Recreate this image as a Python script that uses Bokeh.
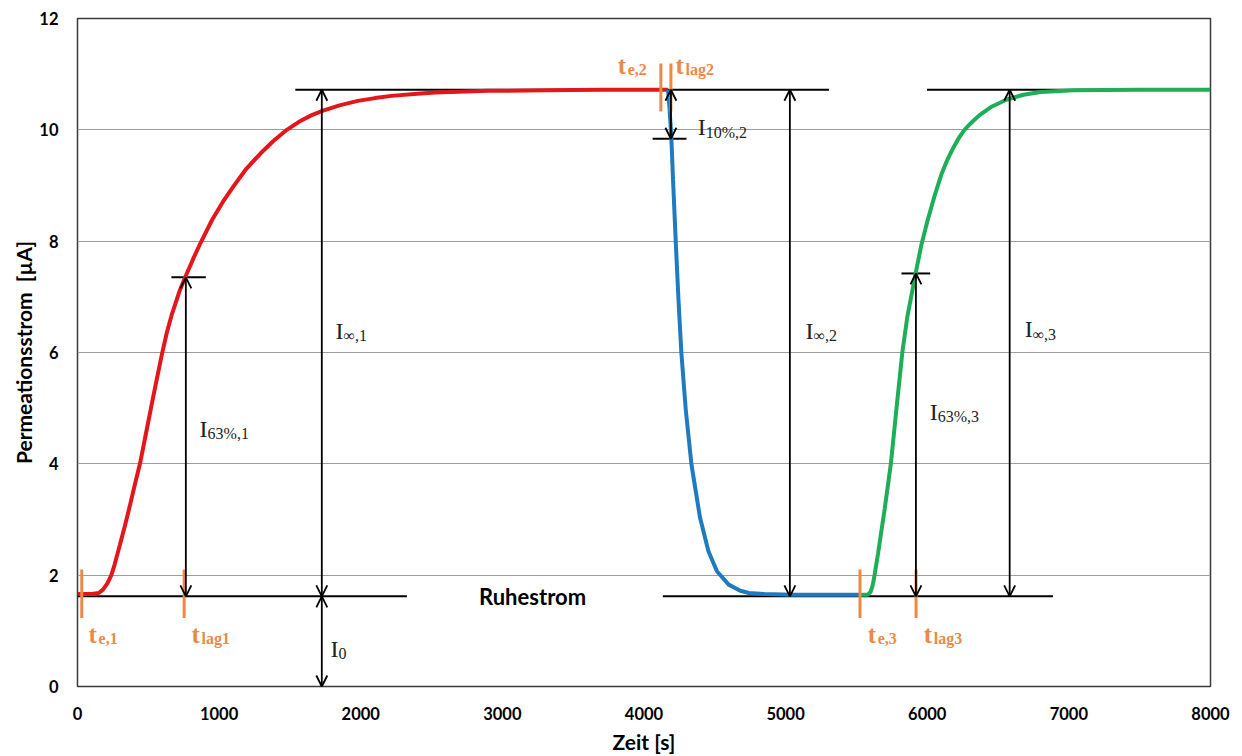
from bokeh.plotting import figure
from bokeh.models import Range1d, FixedTicker, Arrow, OpenHead, ColumnDataSource
from bokeh.core.properties import value
from bokeh.embed import file_html
from bokeh.resources import INLINE

# ---------------- data ----------------
red_t = [0, 100, 150, 180, 210, 239, 262, 300, 334, 370, 405, 441, 480, 525, 560, 597,
         630, 668, 720, 765, 820, 871, 950, 1025, 1100, 1192, 1290, 1383, 1478, 1574,
         1650, 1729, 1850, 1979, 2100, 2217, 2400, 2527, 2900, 3300, 3700, 4169]
red_i = [1.66, 1.66, 1.68, 1.74, 1.85, 2.0, 2.19, 2.55, 2.88, 3.25, 3.63, 4.0, 4.5, 5.08,
         5.52, 5.98, 6.35, 6.7, 7.1, 7.38, 7.7, 7.98, 8.38, 8.7, 8.98, 9.3, 9.57, 9.8,
         10.0, 10.16, 10.26, 10.34, 10.44, 10.52, 10.57, 10.61, 10.65, 10.67, 10.7, 10.71,
         10.72, 10.72]

blue_t = [4169, 4180, 4193, 4205, 4224, 4243, 4264, 4295, 4335, 4395, 4455, 4515, 4598,
          4680, 4741, 4850, 5052, 5300, 5530]
blue_i = [10.72, 10.4, 9.87, 9.1, 8.0, 6.97, 5.99, 4.97, 3.99, 3.04, 2.43, 2.07, 1.83,
          1.72, 1.68, 1.66, 1.65, 1.65, 1.65]

green_t = [5530, 5581, 5600, 5615, 5628, 5652, 5700, 5743, 5785, 5824, 5860, 5890, 5920,
           5960, 6000, 6050, 6100, 6140, 6180, 6220, 6260, 6300, 6367, 6450, 6558, 6680,
           6800, 7035, 7500, 8000]
green_i = [1.65, 1.65, 1.7, 1.82, 2.0, 2.38, 3.2, 4.0, 5.05, 6.0, 6.65, 7.05, 7.45,
           7.95, 8.35, 8.8, 9.2, 9.45, 9.66, 9.84, 9.99, 10.1, 10.26, 10.41, 10.54, 10.63,
           10.68, 10.71, 10.72, 10.72]

# characteristic levels [µA]
I_0 = 1.62
I_inf = 10.72
I_63_1 = 7.35
I_10_2 = 9.84
I_63_3 = 7.42

# characteristic times [s]
t_e = [30, 4119, 5525]
t_lag = [753, 4190, 5921]
t_inf = [1725, 5030, 6582]
t_arrow63 = [765, 5920]

# reference lines (start, end, level)
hline_x0 = [0, 4133, 1538, 5998, 663, 4061, 5818]
hline_x1 = [2326, 6888, 5306, 8000, 906, 4300, 6021]
hline_y = [I_0, I_0, I_inf, I_inf, I_63_1, I_10_2, I_63_3]

# double arrows (x, from, to)
arr_x = [t_arrow63[0], t_inf[0], t_inf[0], t_lag[1], t_inf[1], t_arrow63[1], t_inf[2]]
arr_y0 = [I_0, I_0, 0.0, I_inf, I_0, I_0, I_0]
arr_y1 = [I_63_1, I_inf, I_0, I_10_2, I_inf, I_63_3, I_inf]

# orange time markers (x, lower, upper)
mark_x = [t_e[0], t_lag[0], t_e[1], t_lag[1], t_e[2], t_lag[2]]
mark_y0 = [1.23, 1.23, 10.33, 10.33, 1.23, 1.23]
mark_y1 = [2.10, 2.10, 11.19, 11.19, 2.10, 2.10]

x_ticks = [0, 1000, 2000, 3000, 4000, 5000, 6000, 7000, 8000]
y_ticks = [0, 2, 4, 6, 8, 10, 12]

# annotation labels: main text, subscript, anchor
t_main = ["t", "t", "t", "t", "t", "t"]
t_sub = ["e,1", "lag1", "e,2", "lag2", "e,3", "lag3"]
t_lx = [78, 805, 3814, 4223, 5579, 5975]
t_ly = [0.93, 0.93, 11.16, 11.16, 0.93, 0.93]

i_main = ["I", "I", "I", "I", "I", "I", "I"]
i_sub = ["0", "63%,1", "\u221e,1", "10%,2", "\u221e,2", "63%,3", "\u221e,3"]
i_lx = [1787, 862, 1822, 4379, 5141, 6017, 6688]
i_ly = [0.68, 4.63, 6.39, 10.05, 6.39, 4.94, 6.42]

# ---------------- figure ----------------
p = figure(width=1242, height=756, x_range=Range1d(0, 8000), y_range=Range1d(0, 12),
           output_backend="svg", toolbar_location=None,
           min_border_left=77, min_border_right=32, min_border_top=18, min_border_bottom=60)
p.background_fill_color = "white"
p.border_fill_color = "white"
p.outline_line_color = "#3a3a3a"
p.outline_line_width = 1.5

p.xgrid.visible = False
p.ygrid.grid_line_color = "#9c9c9c"
p.ygrid.grid_line_width = 1
p.xaxis.ticker = FixedTicker(ticks=x_ticks)
p.yaxis.ticker = FixedTicker(ticks=y_ticks)
for ax in (p.xaxis, p.yaxis):
    ax.axis_line_color = None
    ax.major_tick_line_color = None
    ax.minor_tick_line_color = None
    ax.major_label_text_font = "Lato"
    ax.major_label_text_font_style = "bold"
    ax.major_label_text_font_size = "16.5px"
    ax.major_label_text_color = "black"
    ax.axis_label_text_font = "Lato"
    ax.axis_label_text_font_style = "bold"
    ax.axis_label_text_font_size = "21px"
    ax.axis_label_text_color = "black"
p.xaxis.axis_label = "Zeit [s]"
p.yaxis.axis_label = "Permeationsstrom\u00a0 [\u00b5A]"
p.xaxis.major_label_standoff = 14
p.yaxis.major_label_standoff = 13
p.xaxis.axis_label_standoff = 6
p.yaxis.axis_label_standoff = 0

# black reference lines
p.segment(x0=hline_x0, y0=hline_y, x1=hline_x1, y1=hline_y, line_color="black", line_width=2)

# curves
p.line(red_t, red_i, line_color="#e3161c", line_width=4)
p.line(blue_t, blue_i, line_color="#1f7bc1", line_width=4)
p.line(green_t, green_i, line_color="#1fae58", line_width=4)

# orange markers
p.segment(x0=mark_x, y0=mark_y0, x1=mark_x, y1=mark_y1, line_color="#ec8a45", line_width=3)

# double arrows
arr_src = ColumnDataSource(dict(x=arr_x, y0=arr_y0, y1=arr_y1))
p.add_layout(Arrow(source=arr_src, x_start="x", y_start="y0", x_end="x", y_end="y1",
                   line_color="black", line_width=1.8,
                   start=OpenHead(size=11, line_width=1.8, line_color="black"),
                   end=OpenHead(size=11, line_width=1.8, line_color="black")))

# orange t-labels
p.text(x=t_lx, y=t_ly, text=t_main, text_font=value("Liberation Serif"),
       text_font_style="bold", text_font_size="25px", text_color="#ec8a45",
       text_align="left", text_baseline="alphabetic")
p.text(x=t_lx, y=t_ly, text=t_sub, text_font=value("Liberation Serif"),
       text_font_style="bold", text_font_size="16px", text_color="#ec8a45",
       text_align="left", text_baseline="alphabetic", x_offset=10, y_offset=4)

# black I-labels
p.text(x=i_lx, y=i_ly, text=i_main, text_font=value("Liberation Serif"),
       text_font_size="24px", text_color="#222222",
       text_align="left", text_baseline="alphabetic")
p.text(x=i_lx, y=i_ly, text=i_sub, text_font=value("Liberation Serif"),
       text_font_size="16px", text_color="#222222",
       text_align="left", text_baseline="alphabetic", x_offset=8, y_offset=5)

# Ruhestrom
p.text(x=[3213], y=[I_0], text=["Ruhestrom"], text_font=value("Lato"),
       text_font_style="bold", text_font_size="22px", text_color="black",
       text_align="center", text_baseline="middle")

open("out.html", "w").write(file_html(p, INLINE))
